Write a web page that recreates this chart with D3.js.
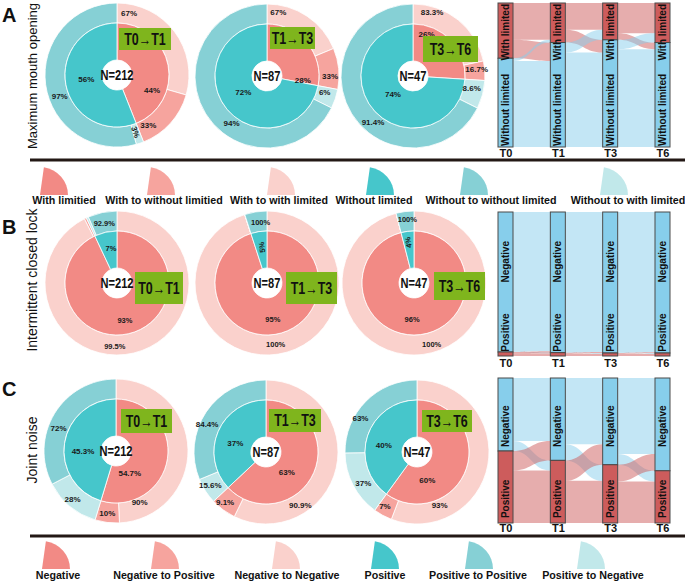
<!DOCTYPE html>
<html><head><meta charset="utf-8">
<script src="https://cdn.jsdelivr.net/npm/d3@7"></script>
<style>
body{margin:0;background:#fff}
svg{display:block}
text{font-family:"Liberation Sans",Arial,sans-serif}
</style>
</head><body>
<svg id="chart" width="685" height="582"></svg>
<script>
// ---------------- DATA ----------------
const transitions = ["T0→T1", "T1→T3", "T3→T6"];
const sampleN = [212, 87, 47];

// Panel A – Maximum mouth opening (inner: with limited / without limited, %)
const mouthInner = [[44, 56], [28, 72], [26, 74]];
// outer ring: with → with, with → without (%)
const mouthOuterWith = [[67, 33], [67, 33], [83.3, 16.7]];
// outer ring: without → with, without → without (%)
const mouthOuterWithout = [[3, 97], [6, 94], [8.6, 91.4]];

// Panel B – Intermittent closed lock (inner: negative / positive, %)
const lockInner = [[93, 7], [95, 5], [96, 4]];
const lockOuterNeg = [[99.5, 0.5], [100, 0], [100, 0]];   // neg→neg, neg→pos
const lockOuterPos = [[7.1, 92.9], [0, 100], [0, 100]];   // pos→neg, pos→pos

// Panel C – Joint noise
const noiseInner = [[54.7, 45.3], [63, 37], [60, 40]];
const noiseOuterNeg = [[90, 10], [90.9, 9.1], [93, 7]];
const noiseOuterPos = [[28, 72], [15.6, 84.4], [37, 63]];

// Alluvial panels
const timePoints = ["T0", "T1", "T3", "T6"];
const mouthStates = ["With limited", "Without limited"];
const lockStates = ["Negative", "Positive"];
const noiseStates = ["Negative", "Positive"];
// flows between consecutive time points: [top→top, top→bottom, bottom→top, bottom→bottom]
const mouthFlows = [[110, 55, 8, 257], [80, 38, 30, 282], [90, 20, 28, 292]];
const lockFlows = [[418, 2, 4, 8], [420, 2, 3, 7], [421, 2, 2, 7]];
const noiseFlows = [[188, 30, 58, 157], [198, 48, 61, 126], [227, 32, 50, 124]];

// Legends
const mouthLegend = ["With limitied", "With to without limitied", "With to with limited",
  "Without limited", "Without to without limited", "Without to with limited"];
const lesionLegend = ["Negative", "Negative to Positive", "Negative to Negative",
  "Positive", "Positive to Positive", "Positive to Negative"];
const rowTitles = ["Maximum mouth opening", "Intermittent closed lock", "Joint noise"];
const panelLetters = ["A", "B", "C"];

// ---------------- STYLE / LAYOUT ----------------
const COL = {
  red: "#f28a85", mp: "#f6a49e", lp: "#fad1cc",
  teal: "#46c6cb", mt: "#86d0d5", lt: "#c1e8ea",
  green: "#7fb51d", sRed: "#cd5c5c", sBlue: "#87ceeb"
};
const legendColors = [COL.red, COL.mp, COL.lp, COL.teal, COL.mt, COL.lt];
const R0 = 15, R1 = 52, R2 = 72;

const svg = d3.select("#chart");

const rows = [
  { inner: mouthInner, outTop: mouthOuterWith, outBot: mouthOuterWithout,
    cx: [117, 267, 413], cy: [75, 76, 76],
    boxes: [[2, -47, 52, 22], [3, -49, 45, 22], [10, -40, 55, 26]],
    labels: [
      [[113, 38], [263, 31], [11, 63], [148, 59], [162, 60], [250, 61]],
      [[96, 36], [235, 29], [10, 65], [90, 63], [106, 60], [217, 59]],
      [[18, 44], [228, 27], [16.5, 67], [84, 64], [102, 60], [221, 61]]
    ],
    letterY: 22, titleY: 76, titleSize: 13,
    sankey: { flows: mouthFlows, states: mouthStates, colors: [COL.sRed, COL.sBlue], y0: 3, y1: 147, tickY: 158,
      lab: [{ anchor: "end", frac: 0, off: 1 }, { anchor: "start", frac: 1, off: -1 }] }
  },
  { inner: lockInner, outTop: lockOuterNeg, outBot: lockOuterPos,
    cx: [117, 267, 414], cy: [283, 283, 283],
    boxes: [[18, -11, 48, 32], [19, -11, 51, 32], [20, -11, 51, 28]],
    labels: [
      [[168, 38], [350, 35], [182, 63], null, null, [348, 61]],
      [[171, 37], [352, 36], [172, 62], null, null, [354, 61]],
      [[183, 36], [352, 41], [164, 64], null, null, [354, 64]]
    ],
    letterY: 234, titleY: 280, titleSize: 14, small: true,
    sankey: { flows: lockFlows, states: lockStates, colors: [COL.sBlue, COL.sRed], y0: 212, y1: 356, tickY: 368,
      lab: [{ anchor: "start", frac: 0.49, off: 0 }, { anchor: "start", frac: 0.97, off: 0 }] }
  },
  { inner: noiseInner, outTop: noiseOuterNeg, outBot: noiseOuterPos,
    cx: [116, 266, 417], cy: [451, 452, 452],
    boxes: [[5, -42, 51, 24], [3, -43, 52, 23], [5, -42, 50, 22]],
    labels: [
      [[148, 26], [270, 33], [155, 56], [188, 63], [222, 65], [292, 62]],
      [[134, 29], [286, 32], [147, 63], [219, 65], [239, 65], [295, 65]],
      [[160, 30], [282, 34], [157, 58], [210.6, 63], [240, 62], [301, 66]]
    ],
    letterY: 396, titleY: 450, titleSize: 14,
    sankey: { flows: noiseFlows, states: noiseStates, colors: [COL.sBlue, COL.sRed], y0: 378, y1: 523, tickY: 533,
      lab: [{ anchor: "start", frac: 0.476, off: 0 }, { anchor: "start", frac: 0.966, off: 0 }] }
  }
];

const fmt = v => (Math.round(v * 10) / 10) + "%";
const rad = d => d * Math.PI / 180;

function drawDonut(g, inner, outA, outB, n, trans, lay, box, small) {
  const pie = d3.pie().sort(null).value(d => d.v);
  const innerData = [
    { v: inner[0], c: COL.red, lab: fmt(inner[0]) },
    { v: inner[1], c: COL.teal, lab: fmt(inner[1]) }
  ];
  const outerData = [
    { v: inner[0] * outA[0] / 100, c: COL.lp, lab: fmt(outA[0]) },
    { v: inner[0] * outA[1] / 100, c: COL.mp, lab: fmt(outA[1]) },
    { v: inner[1] * outB[0] / 100, c: COL.lt, lab: fmt(outB[0]) },
    { v: inner[1] * outB[1] / 100, c: COL.mt, lab: fmt(outB[1]) }
  ];
  const arcIn = d3.arc().innerRadius(R0).outerRadius(R1);
  const arcOut = d3.arc().innerRadius(R1).outerRadius(R2);
  const pin = pie(innerData), pout = pie(outerData);
  g.selectAll("path.out").data(pout).join("path").attr("class", "out")
    .attr("d", arcOut).attr("fill", d => d.data.c).attr("stroke", "#fff").attr("stroke-width", 0.8);
  g.selectAll("path.in").data(pin).join("path").attr("class", "in")
    .attr("d", arcIn).attr("fill", d => d.data.c).attr("stroke", "#fff").attr("stroke-width", 0.8);

  const all = pin.map((d, i) => ({ d, ring: "in", i })).concat(pout.map((d, i) => ({ d, ring: "out", i: i + 2 })));
  all.forEach(o => {
    const share = o.d.value / 100;
    if (share < 0.01) return;
    const L = lay[o.i];
    if (!L) return;
    const a = L[0], r = L[1];
    const x = r * Math.sin(rad(a)), y = -r * Math.cos(rad(a));
    const span = (o.d.endAngle - o.d.startAngle) * r;
    const rot = span < 13 ? a - 90 : 0;
    g.append("text").attr("transform", `translate(${x},${y}) rotate(${rot})`)
      .attr("text-anchor", "middle").attr("dy", "0.35em")
      .attr("font-size", small ? 7.5 : 8).attr("font-weight", "bold").attr("fill", "#1a1a1a")
      .text(o.d.data.lab);
  });

  g.append("text").attr("transform", "scale(0.74,1)").attr("text-anchor", "middle").attr("dy", "0.36em")
    .attr("font-size", 15).attr("font-weight", "bold").attr("fill", "#111").text("N=" + n);

  const bg = g.append("g").attr("transform", `translate(${box[0]},${box[1]})`);
  bg.append("rect").attr("width", box[2]).attr("height", box[3]).attr("fill", COL.green);
  bg.append("text").attr("transform", `translate(${box[2] / 2},${box[3] / 2}) scale(0.78,1)`)
    .attr("text-anchor", "middle").attr("dy", "0.36em").attr("font-size", 16).attr("font-weight", "bold")
    .attr("fill", "#111").text(trans);
}

function drawSankey(g, S) {
  const xs = d3.scalePoint().domain(timePoints).range([498, 655]);
  const nw = 15;
  const F = S.flows;
  const total = d3.sum(F[0]);
  const ys = d3.scaleLinear().domain([0, total]).range([S.y0, S.y1]);
  const nodes = timePoints.map((t, i) => {
    const top = i === 0 ? F[0][0] + F[0][1] : F[i - 1][0] + F[i - 1][2];
    return { t, top, bot: total - top };
  });
  const fg = g.append("g");
  F.forEach((f, i) => {
    const xa = xs(timePoints[i]) + nw, xb = xs(timePoints[i + 1]);
    const xm = (xa + xb) / 2;
    const src = [[0, f[0]], [f[0], f[0] + f[1]], [f[0] + f[1], f[0] + f[1] + f[2]], [f[0] + f[1] + f[2], total]];
    const tgt = [[0, f[0]], [f[0] + f[2], f[0] + f[2] + f[1]], [f[0], f[0] + f[2]], [f[0] + f[2] + f[1], total]];
    const cols = [S.colors[0], S.colors[0], S.colors[1], S.colors[1]];
    [0, 3, 1, 2].forEach(k => {
      if (f[k] <= 0) return;
      const a0 = ys(src[k][0]), a1 = ys(src[k][1]), b0 = ys(tgt[k][0]), b1 = ys(tgt[k][1]);
      const p = d3.path();
      p.moveTo(xa, a0);
      p.bezierCurveTo(xm, a0, xm, b0, xb, b0);
      p.lineTo(xb, b1);
      p.bezierCurveTo(xm, b1, xm, a1, xa, a1);
      p.closePath();
      fg.append("path").attr("d", p.toString()).attr("fill", cols[k]).attr("fill-opacity", 0.5);
    });
  });
  const ng = g.append("g");
  nodes.forEach(nd => {
    const x = xs(nd.t);
    const yb = ys(nd.top);
    ng.append("rect").attr("x", x).attr("y", S.y0).attr("width", nw).attr("height", yb - S.y0)
      .attr("fill", S.colors[0]).attr("stroke", "#4a4a4a").attr("stroke-width", 1);
    ng.append("rect").attr("x", x).attr("y", yb).attr("width", nw).attr("height", S.y1 - yb)
      .attr("fill", S.colors[1]).attr("stroke", "#4a4a4a").attr("stroke-width", 1);
    S.states.forEach((st, j) => {
      const L = S.lab[j];
      const y = S.y0 + L.frac * (S.y1 - S.y0) + L.off;
      ng.append("text").attr("transform", `translate(${x + nw / 2},${y}) rotate(-90)`)
        .attr("text-anchor", L.anchor).attr("dy", "0.36em").attr("font-size", 10).attr("font-weight", "bold")
        .attr("fill", "#111").text(st);
    });
  });
  const tickScale = d3.scalePoint().domain(timePoints).range([498 + nw / 2, 655 + nw / 2]);
  const ax = g.append("g").attr("transform", `translate(0,${S.tickY - 9})`)
    .call(d3.axisBottom(tickScale).tickSize(0).tickPadding(0));
  ax.select(".domain").remove();
  ax.selectAll("text").attr("font-size", 11).attr("font-weight", "bold").attr("fill", "#111")
    .attr("font-family", '"Liberation Sans",Arial,sans-serif').attr("dy", "0.71em");
}

rows.forEach((row, ri) => {
  const g = svg.append("g");
  for (let k = 0; k < 3; k++) {
    const dg = g.append("g").attr("transform", `translate(${row.cx[k]},${row.cy[k]})`);
    drawDonut(dg, row.inner[k], row.outTop[k], row.outBot[k], sampleN[k], transitions[k],
      row.labels[k], row.boxes[k], row.small);
  }
  drawSankey(g, row.sankey);
  g.append("text").attr("x", 2).attr("y", row.letterY).attr("font-size", 20).attr("font-weight", "bold")
    .attr("fill", "#111").text(panelLetters[ri]);
  g.append("text").attr("transform", `translate(37,${row.titleY}) rotate(-90)`).attr("text-anchor", "middle")
    .attr("font-size", row.titleSize).attr("fill", "#111").text(rowTitles[ri]);
});

// separator lines
[160, 536].forEach(y => svg.append("line").attr("x1", 30).attr("x2", 685).attr("y1", y).attr("y2", y)
  .attr("stroke", "#231815").attr("stroke-width", 3));

// legends
const wedge = d3.arc().innerRadius(0).outerRadius(28).startAngle(rad(8)).endAngle(rad(90));
function drawLegend(labels, iconX, textX, iconY, textY) {
  const lg = svg.append("g");
  labels.forEach((t, i) => {
    lg.append("path").attr("d", wedge()).attr("transform", `translate(${iconX[i]},${iconY})`)
      .attr("fill", legendColors[i]);
    lg.append("text").attr("x", textX[i]).attr("y", textY).attr("text-anchor", "middle")
      .attr("font-size", 10.7).attr("font-weight", "bold").attr("fill", "#111").text(t);
  });
}
drawLegend(mouthLegend, [40, 147, 267, 366, 460, 600], [64, 164, 279, 374, 491, 628], 195, 204);
drawLegend(lesionLegend, [42, 151, 272, 371, 465, 577], [58, 164, 287, 385, 478, 593], 569, 579);
</script>
</body></html>
